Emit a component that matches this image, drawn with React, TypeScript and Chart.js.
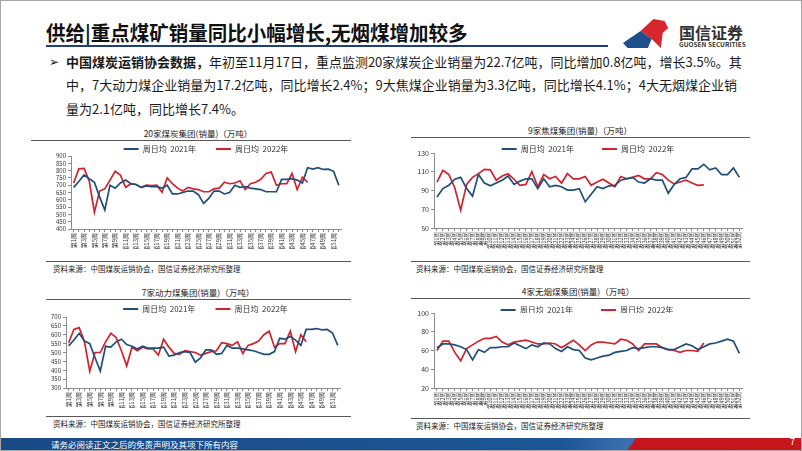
import React, { useEffect, useRef } from "react";
import { Chart, registerables } from "chart.js";
Chart.register(...registerables);

const FONT = '"Noto Sans CJK SC", "Noto Sans", sans-serif';
const BLUE = "#1f4e79";
const RED = "#d2222d";
const AXIS = "#8c8c8c";

const WEEKS: string[] = Array.from({ length: 52 }, (_, i) => `第${i + 1}周`);
const SERIES_LABELS = ["周日均  2021年", "周日均  2022年"];

// 20家煤炭集团（销量）（万吨）
const coal20_2021 = [685, 725, 770, 745, 720, 620, 530, 700, 680, 715, 735, 710, 705, 685, 695, 690, 690, 680, 700, 640, 640, 650, 660, 660, 635, 575, 610, 660, 660, 640, 650, 700, 685, 690, 680, 675, 670, 655, 655, 655, 740, 740, 745, 735, 715, 820, 810, 820, 808, 810, 795, 700];
const coal20_2022 = [715, 812, 815, 730, 515, 660, 675, 735, 795, 770, 685, 710, 705, 685, 700, 698, 700, 652, 750, 710, 680, 660, 685, 675, 670, 655, 655, 675, 680, 720, 710, 715, 730, 670, 710, 720, 740, 780, 790, 700, 710, 710, 780, 670, 755, 720];

// 9家焦煤集团（销量）（万吨）
const coking9_2021 = [83, 92, 95.5, 102, 104, 92, 84, 107, 98, 95, 98, 101, 105.5, 96.5, 100, 102.5, 102.5, 92, 102.5, 94, 95.5, 94, 90.5, 90.5, 92, 78, 86, 94, 92, 95, 95.5, 101, 102.5, 104, 99, 98, 102.5, 101, 101, 87, 96.5, 102.5, 104, 113, 113, 118, 112, 114, 107, 107, 114, 104];
const coking9_2022 = [99, 111.5, 107, 93, 69, 96.5, 104, 108, 112.5, 112, 101, 105.5, 108, 102, 95.5, 96.5, 110, 94, 107, 102.5, 105, 98, 108, 102.5, 102.5, 105, 95.5, 99, 102, 98, 94, 105, 102.5, 104, 106, 102.5, 102.5, 109, 107, 101, 97, 99, 101, 98, 95.5, 96];

// 7家动力煤集团（销量）（万吨）
const thermal7_2021 = [537, 570, 608, 565, 550, 470, 395, 535, 530, 560, 575, 545, 535, 520, 535, 525, 525, 525, 530, 480, 485, 500, 505, 500, 445, 470, 515, 515, 490, 495, 540, 525, 525, 520, 515, 510, 500, 490, 490, 505, 580, 575, 590, 570, 540, 630, 630, 635, 628, 630, 610, 540];
const thermal7_2022 = [555, 630, 640, 560, 395, 500, 500, 560, 608, 585, 510, 425, 530, 510, 530, 520, 520, 485, 575, 530, 495, 490, 510, 505, 500, 485, 495, 505, 510, 555, 550, 540, 560, 495, 540, 550, 565, 600, 620, 530, 550, 550, 620, 505, 600, 560];

// 4家无烟煤集团（销量）（万吨）
const anthracite4_2021 = [63, 67, 67, 66, 64, 61, 50, 61, 58, 63, 63, 64, 64, 68, 65, 62, 66, 64, 68, 67, 62, 59, 64, 61, 60, 52, 50, 52, 54, 55, 58, 59, 60, 63, 62, 63, 64, 64, 63, 61, 61, 64, 67, 65, 61, 64, 67, 68, 70, 72, 70, 57];
const anthracite4_2022 = [60, 70, 70, 58, 49, 62, 66, 70, 73, 73, 75, 69, 66, 69, 70, 71, 69, 67, 67, 68, 67, 63, 67, 71, 66, 60, 66, 69, 69, 68, 67, 72, 71, 67, 60, 67, 67, 67, 63, 61, 60, 58, 60, 60, 59, 68];

type Spec = {
  x: number; y: number; w: number; h: number;
  yWidth: number; xH: number; legendH: number; legendPad: number; legendDx: number;
  yMin: number; yMax: number; yStep: number; yFont: number; xFont: number; oddOnly: boolean;
  d2021: number[]; d2022: number[];
};

const SPECS: Spec[] = [
  { x: 30, y: 124, w: 316, h: 124, yWidth: 40, xH: 20, legendH: 31, legendPad: 20, legendDx: 17, yMin: 400, yMax: 900, yStep: 50, yFont: 6, xFont: 6, oddOnly: true, d2021: coal20_2021, d2022: coal20_2022 },
  { x: 410, y: 116, w: 336, h: 132, yWidth: 23, xH: 21, legendH: 36, legendPad: 28, legendDx: 9, yMin: 50, yMax: 130, yStep: 20, yFont: 7, xFont: 5.5, oddOnly: false, d2021: coking9_2021, d2022: coking9_2022 },
  { x: 30, y: 284, w: 315, h: 123, yWidth: 35, xH: 20, legendH: 32, legendPad: 20, legendDx: 17, yMin: 300, yMax: 700, yStep: 50, yFont: 6, xFont: 6, oddOnly: true, d2021: thermal7_2021, d2022: thermal7_2022 },
  { x: 410, y: 277, w: 336, h: 131, yWidth: 23, xH: 21, legendH: 35, legendPad: 28, legendDx: 8, yMin: 20, yMax: 100, yStep: 20, yFont: 7, xFont: 5.5, oddOnly: false, d2021: anthracite4_2021, d2022: anthracite4_2022 },
];

function legendTweak(h: number, dx: number) {
  return {
    id: "legendTweak",
    beforeInit(chart: any) {
      const lg = chart.legend;
      if (!lg) return;
      const orig = lg.fit;
      lg.fit = function () {
        orig.call(this);
        this.height = h;
      };
    },
    afterLayout(chart: any) {
      const lg = chart.legend;
      if (!lg) return;
      lg.left += dx;
      lg.right += dx;
    },
  };
}

function LineChart({ spec }: { spec: Spec }) {
  const ref = useRef<HTMLCanvasElement>(null);
  useEffect(() => {
    const canvas = ref.current;
    if (!canvas) return;
    const chart = new Chart(canvas, {
      type: "line",
      data: {
        labels: WEEKS,
        datasets: [
          { label: SERIES_LABELS[0], data: spec.d2021, borderColor: BLUE, backgroundColor: BLUE, borderWidth: 1.7, pointRadius: 0, tension: 0, fill: false },
          { label: SERIES_LABELS[1], data: spec.d2022, borderColor: RED, backgroundColor: RED, borderWidth: 1.7, pointRadius: 0, tension: 0, fill: false },
        ],
      },
      options: {
        responsive: false,
        animation: false,
        devicePixelRatio: 1,
        layout: { padding: 0 },
        plugins: {
          tooltip: { enabled: false },
          legend: {
            display: true,
            position: "top",
            align: "center",
            labels: {
              boxWidth: 15,
              boxHeight: 2,
              padding: spec.legendPad,
              color: "#333",
              font: { size: 8, family: FONT },
              generateLabels: (c: any) =>
                (Chart as any).defaults.plugins.legend.labels.generateLabels(c).map((l: any) => ({ ...l, lineWidth: 0 })),
            },
          },
        },
        scales: {
          x: {
            offset: true,
            grid: { display: true, drawOnChartArea: false, drawTicks: true, tickLength: 3, color: AXIS },
            border: { display: true, color: AXIS, width: 1 },
            ticks: {
              autoSkip: false,
              minRotation: 90,
              maxRotation: 90,
              padding: 1,
              color: "#333",
              font: { size: spec.xFont, family: FONT },
              callback: (_v: any, i: number) => (spec.oddOnly && i % 2 === 1 ? "" : WEEKS[i]),
            },
            afterFit: (s: any) => { s.height = spec.xH; },
          },
          y: {
            min: spec.yMin,
            max: spec.yMax,
            grid: { display: true, drawOnChartArea: false, drawTicks: true, tickLength: 3, color: AXIS },
            border: { display: true, color: AXIS, width: 1 },
            ticks: {
              stepSize: spec.yStep,
              autoSkip: false,
              padding: 2,
              color: "#333",
              font: { size: spec.yFont, family: FONT },
            },
            afterFit: (s: any) => { s.width = spec.yWidth; },
          },
        },
      },
      plugins: [legendTweak(spec.legendH, spec.legendDx)],
    } as any);
    return () => chart.destroy();
  }, [spec]);
  return (
    <canvas
      ref={ref}
      width={spec.w}
      height={spec.h}
      style={{ position: "absolute", left: spec.x, top: spec.y, width: spec.w, height: spec.h }}
    />
  );
}

function Txt(props: { x: number; cy: number; size: number; children: any; bold?: boolean; color?: string; center?: boolean; sx?: number }) {
  const { x, cy, size, bold, color, center, sx } = props;
  let transform: string | undefined = undefined;
  if (center) transform = "translateX(-50%)";
  if (sx) transform = `scaleX(${sx})`;
  return (
    <div
      style={{
        position: "absolute",
        left: x,
        top: cy - size * 0.55,
        fontSize: size,
        lineHeight: `${size}px`,
        whiteSpace: "nowrap",
        fontFamily: FONT,
        fontWeight: bold ? 700 : 400,
        color: color || "#1a1a1a",
        transform,
        transformOrigin: "left center",
      }}
    >
      {props.children}
    </div>
  );
}

function HLine({ x1, x2, y, color = "#595959", h = 1 }: { x1: number; x2: number; y: number; color?: string; h?: number }) {
  return <div style={{ position: "absolute", left: x1, top: y, width: x2 - x1, height: h, background: color }} />;
}

const SOURCE = "资料来源：中国煤炭运销协会，国信证券经济研究所整理";

export default function App() {
  return (
    <div
      style={{
        position: "absolute",
        left: 0,
        top: 0,
        width: 802,
        height: 451,
        overflow: "hidden",
        background: "#fff",
        boxSizing: "border-box",
        border: "1px solid #a6a6a6",
        fontFamily: FONT,
      }}
    >
      {/* header */}
      <Txt x={45} cy={33} size={20} bold color="#111" sx={0.975}>供给|重点煤矿销量同比小幅增长,无烟煤增加较多</Txt>
      <HLine x1={45} x2={607} y={44} h={2} color="#1f3f7a" />
      <svg style={{ position: "absolute", left: 622, top: 17 }} width={48} height={31} viewBox="0 0 52 31" preserveAspectRatio="none">
        <polygon points="19,13 33,1 45,3 49,10 43,15 41,30 31,21" fill="#d7262e" />
        <polygon points="0,25 19,13 31,21 27,30 5,30" fill="#1f4e8c" />
      </svg>
      <Txt x={678} cy={32} size={16} bold color="#333">国信证券</Txt>
      <Txt x={678} cy={44} size={6.5} bold color="#333">GUOSEN SECURITIES</Txt>

      {/* bullet */}
      <Txt x={48} cy={61} size={12} color="#222">➢</Txt>
      <Txt x={65} cy={61} size={13}>
        <b>中国煤炭运销协会数据，</b>年初至11月17日，重点监测20家煤炭企业销量为22.7亿吨，同比增加0.8亿吨，增长3.5%。其
      </Txt>
      <Txt x={65} cy={84.5} size={13}>中，7大动力煤企业销量为17.2亿吨，同比增长2.4%；9大焦煤企业销量为3.3亿吨，同比增长4.1%；4大无烟煤企业销</Txt>
      <Txt x={65} cy={108} size={13}>量为2.1亿吨，同比增长7.4%。</Txt>

      {/* chart 1 */}
      <Txt x={197} cy={133} size={8.5} center color="#222">20家煤炭集团(销量)（万吨）</Txt>
      <HLine x1={30} x2={350} y={139} />
      <HLine x1={45} x2={350} y={260} />
      <Txt x={52} cy={268} size={7.5} color="#222">{SOURCE}</Txt>

      {/* chart 2 */}
      <Txt x={579} cy={130} size={8.5} center color="#222">9家焦煤集团(销量)（万吨）</Txt>
      <HLine x1={410} x2={749} y={136} />
      <HLine x1={410} x2={749} y={260} />
      <Txt x={415} cy={268} size={7.5} color="#222">{SOURCE}</Txt>

      {/* chart 3 */}
      <Txt x={197} cy={292} size={8.5} center color="#222">7家动力煤集团(销量)（万吨）</Txt>
      <HLine x1={45} x2={350} y={298} />
      <HLine x1={45} x2={350} y={415} />
      <Txt x={52} cy={423} size={7.5} color="#222">{SOURCE}</Txt>

      {/* chart 4 */}
      <Txt x={577} cy={291} size={8.5} center color="#222">4家无烟煤集团(销量)（万吨）</Txt>
      <HLine x1={410} x2={749} y={297} />
      <HLine x1={410} x2={749} y={417} />
      <Txt x={415} cy={425} size={7.5} color="#222">{SOURCE}</Txt>

      {SPECS.map((s, i) => (
        <LineChart key={i} spec={s} />
      ))}

      {/* footer */}
      <div style={{ position: "absolute", left: 0, top: 437, width: 802, height: 14, background: "linear-gradient(90deg, #1a4a86 0%, #1d5596 70%, #3b6fb0 78%)" }} />
      <div style={{ position: "absolute", left: 0, top: 437, width: 802, height: 14, background: "linear-gradient(90deg, #b5141b, #c8161d)", clipPath: "polygon(635px 0, 802px 0, 802px 14px, 625px 14px)" }} />
      <Txt x={50} cy={444} size={8.5} color="#fff">请务必阅读正文之后的免责声明及其项下所有内容</Txt>
      <Txt x={789} cy={441} size={9} color="#fff">7</Txt>
    </div>
  );
}
